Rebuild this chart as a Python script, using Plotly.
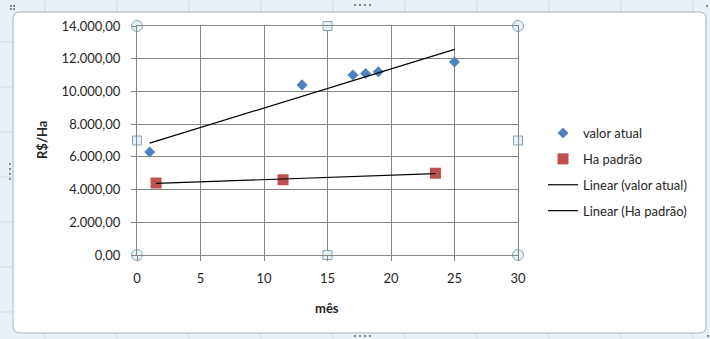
import numpy as np
import plotly.graph_objects as go

# --- data -------------------------------------------------------------
mes_atual = [1, 13, 17, 18, 19, 25]
valor_atual = [6300, 10400, 11000, 11100, 11200, 11800]

mes_padrao = [1.5, 11.5, 23.5]
ha_padrao = [4400, 4600, 5000]

x_range = [0, 30]
y_range = [0, 14000]
x_ticks = [0, 5, 10, 15, 20, 25, 30]
y_ticks = [0, 2000, 4000, 6000, 8000, 10000, 12000, 14000]

# --- geometry of the figure (pixels) -----------------------------------
W, H = 710, 339
L, R, T, B = 137, 192, 26, 84
PW, PH = W - L - R, H - T - B

FONT = "Lato"
TXT = "#262626"
GRID = "#868686"


def px(x):
    return (x - L) / PW


def py(y):
    return (H - B - y) / PH


def trend(x, y):
    """Least-squares line over the span of the data, like a spreadsheet trendline."""
    m, b = np.polyfit(x, y, 1)
    xs = np.array([min(x), max(x)], dtype=float)
    return xs, m * xs + b


fig = go.Figure()

fig.add_trace(go.Scatter(
    x=mes_atual, y=valor_atual, mode="markers", name="valor atual",
    marker=dict(symbol="diamond", size=8.5, color="#4F81BD"),
    legendgroup="a",
))
fig.add_trace(go.Scatter(
    x=mes_padrao, y=ha_padrao, mode="markers", name="Ha padrão",
    marker=dict(symbol="square", size=11, color="#C0504D"),
    legendgroup="b",
))
tx, ty = trend(mes_atual, valor_atual)
fig.add_trace(go.Scatter(
    x=tx, y=ty, mode="lines", name="Linear (valor atual)",
    line=dict(color="#000000", width=1.2), legendgroup="c",
))
tx, ty = trend(mes_padrao, ha_padrao)
fig.add_trace(go.Scatter(
    x=tx, y=ty, mode="lines", name="Linear (Ha padrão)",
    line=dict(color="#000000", width=1.2), legendgroup="d",
))

# plot-area selection handles: circles at corners, squares at mid-edges
xm = (x_range[0] + x_range[1]) / 2
ym = (y_range[0] + y_range[1]) / 2
fig.add_trace(go.Scatter(
    x=[x_range[0], x_range[0], x_range[1], x_range[1]],
    y=[y_range[0], y_range[1], y_range[0], y_range[1]],
    mode="markers", showlegend=False, hoverinfo="skip", cliponaxis=False,
    marker=dict(symbol="circle", size=11, color="#e4f1f6",
                line=dict(color="#8aa6b4", width=1)),
))
fig.add_trace(go.Scatter(
    x=[xm, xm, x_range[0], x_range[1]],
    y=[y_range[0], y_range[1], ym, ym],
    mode="markers", showlegend=False, hoverinfo="skip", cliponaxis=False,
    marker=dict(symbol="square", size=9, color="#e4f1f6",
                line=dict(color="#8aa6b4", width=1)),
))

shapes = []

# spreadsheet grid around the chart object
for gx in range(45, W, 72):
    shapes.append(dict(type="line", xref="paper", yref="paper",
                       x0=px(gx), x1=px(gx), y0=py(0), y1=py(12),
                       line=dict(color="#cddbe7", width=1), layer="below"))
    shapes.append(dict(type="line", xref="paper", yref="paper",
                       x0=px(gx), x1=px(gx), y0=py(333), y1=py(H),
                       line=dict(color="#cddbe7", width=1), layer="below"))
for gy in range(42, H, 45):
    shapes.append(dict(type="line", xref="paper", yref="paper",
                       x0=px(0), x1=px(13), y0=py(gy), y1=py(gy),
                       line=dict(color="#cddbe7", width=1), layer="below"))

# chart object: white panel with rounded corners
x0, x1, y0, y1, r = 13, 706, 12, 333, 7
path = (
    f"M {px(x0 + r)},{py(y0)} L {px(x1 - r)},{py(y0)} "
    f"Q {px(x1)},{py(y0)} {px(x1)},{py(y0 + r)} "
    f"L {px(x1)},{py(y1 - r)} Q {px(x1)},{py(y1)} {px(x1 - r)},{py(y1)} "
    f"L {px(x0 + r)},{py(y1)} Q {px(x0)},{py(y1)} {px(x0)},{py(y1 - r)} "
    f"L {px(x0)},{py(y0 + r)} Q {px(x0)},{py(y0)} {px(x0 + r)},{py(y0)} Z"
)
shapes.append(dict(type="path", xref="paper", yref="paper", path=path,
                   fillcolor="#ffffff", line=dict(color="#a9b4bd", width=1),
                   layer="below"))

# resize grips of the chart object
def grip(cx, cy):
    shapes.append(dict(type="rect", xref="paper", yref="paper",
                       x0=px(cx - 1), x1=px(cx + 1), y0=py(cy - 1), y1=py(cy + 1),
                       fillcolor="#7d8a98", line=dict(width=0)))

for gx in (355, 360, 365, 370):
    grip(gx, 5)
    grip(gx, 336)
for gy in (164, 169, 174, 179):
    grip(10, gy)
for gx, gy in ((11, 6), (14, 6), (11, 9), (14, 9), (707, 6), (708, 336)):
    grip(gx, gy)

fig.update_layout(
    width=W, height=H,
    margin=dict(l=L, r=R, t=T, b=B, pad=0),
    paper_bgcolor="#e8f1f7",
    plot_bgcolor="#ffffff",
    separators=",.",
    font=dict(family=FONT, size=13, color=TXT),
    showlegend=True,
    legend=dict(
        x=px(543), y=py(118), xanchor="left", yanchor="top",
        bgcolor="rgba(0,0,0,0)", borderwidth=0,
        font=dict(family=FONT, size=13, color=TXT),
        tracegroupgap=6, traceorder="grouped",
    ),
    shapes=shapes,
    annotations=[
        dict(text="<b>mês</b>", xref="paper", yref="paper",
             x=px(327), y=py(308), xanchor="center", yanchor="middle",
             showarrow=False, font=dict(family=FONT, size=13, color=TXT)),
        dict(text="<b>R$/Ha</b>", xref="paper", yref="paper",
             x=px(42), y=py(140), xanchor="center", yanchor="middle",
             textangle=-90, showarrow=False,
             font=dict(family=FONT, size=13, color=TXT)),
    ],
)

fig.update_xaxes(
    range=x_range, tickvals=x_ticks, ticktext=[str(v) for v in x_ticks],
    showgrid=True, gridcolor=GRID, gridwidth=1,
    showline=True, linecolor=GRID, linewidth=1, mirror=True,
    ticks="outside", ticklen=5, tickcolor=GRID, ticklabelstandoff=6,
    zeroline=False, fixedrange=True,
)
fig.update_yaxes(
    range=y_range, tickvals=y_ticks, tickformat=",.2f",
    showgrid=True, gridcolor=GRID, gridwidth=1,
    showline=True, linecolor=GRID, linewidth=1, mirror=True,
    ticks="outside", ticklen=5, tickcolor=GRID, ticklabelstandoff=8,
    zeroline=False, fixedrange=True,
)

fig.write_html("out.html")
